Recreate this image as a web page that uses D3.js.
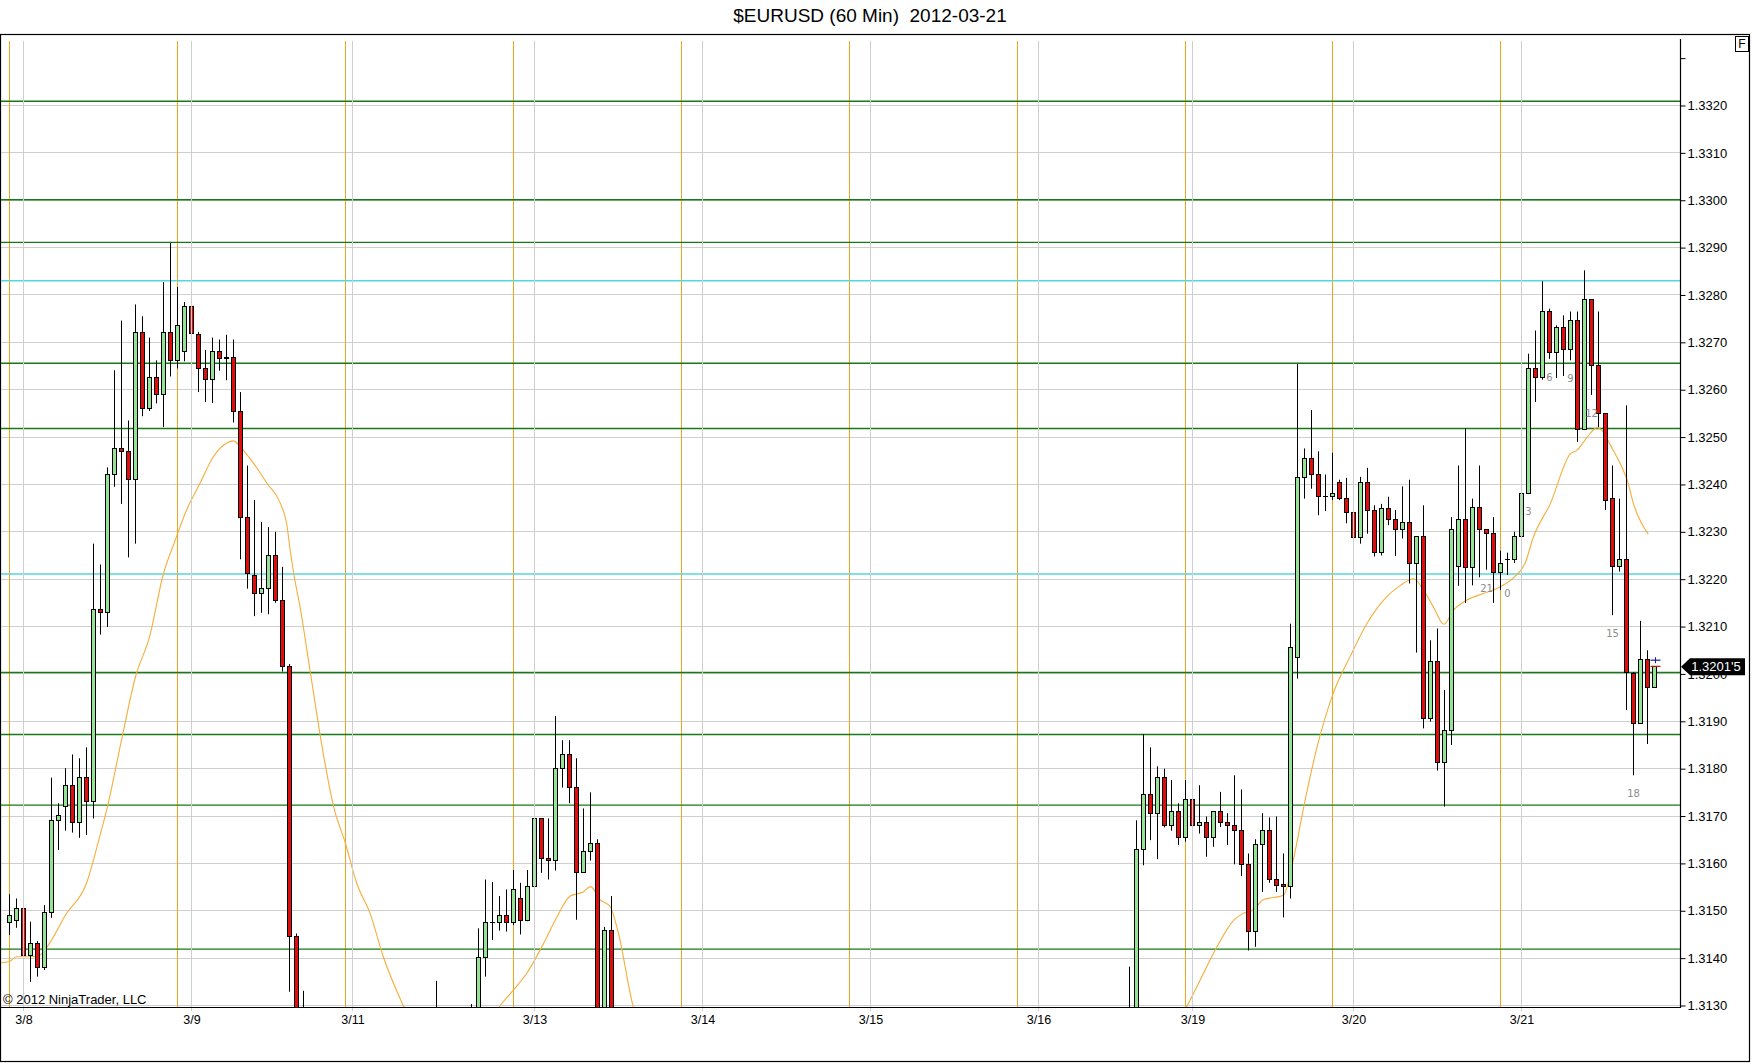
<!DOCTYPE html>
<html><head><meta charset="utf-8">
<script src="https://cdn.jsdelivr.net/npm/d3@7"></script>
<style>
html,body{margin:0;padding:0;background:#fff;}
svg{display:block;font-family:"Liberation Sans",Arial,sans-serif;}
.pre{white-space:pre;}
</style></head><body>
<svg id="c" width="1752" height="1064"></svg>
<script>
// ---------------- DATA ----------------
const chartTitle = "$EURUSD (60 Min)  2012-03-21";
const copyright = "\u00A9 2012 NinjaTrader, LLC";

const barIndex = [0,1,2,3,4,5,6,7,8,9,10,11,12,13,14,15,16,17,18,19,20,21,22,23,24,25,26,27,28,29,30,31,32,33,34,35,36,37,38,39,40,41,42,
  61,66,67,68,69,70,71,72,73,74,75,76,77,78,79,80,81,82,83,84,85,86,
  160,161,162,163,164,165,166,167,168,169,170,171,172,173,174,175,176,177,178,179,180,181,182,183,184,185,186,187,188,189,190,191,192,193,194,195,196,197,198,199,200,201,202,203,204,205,206,207,208,209,210,211,212,213,214,215,216,217,218,219,220,221,222,223,224,225,226,227,228,229,230,231,232,233,234,235];
const opens = [1.31476,1.31480,1.31505,1.31405,1.31431,1.31380,1.31497,1.31691,1.31720,1.31764,1.31687,1.31781,1.31731,1.32136,1.32130,1.32421,1.32476,1.32469,1.32410,1.32720,1.32560,1.32625,1.32590,1.32720,1.32662,1.32680,1.32775,1.32716,1.32645,1.32621,1.32680,1.32665,1.32669,1.32555,1.32330,1.32208,1.32170,1.32180,1.32251,1.32154,1.32015,1.31445,1.31250,
  1.31200,1.31200,1.31250,1.31402,1.31476,1.31476,1.31491,1.31476,1.31526,1.31480,1.31551,1.31695,1.31611,1.31606,1.31801,1.31830,1.31760,1.31581,1.31625,1.31641,1.31200,1.31458,
  1.31200,1.31250,1.31629,1.31746,1.31706,1.31781,1.31679,1.31709,1.31655,1.31735,1.31679,1.31686,1.31655,1.31709,1.31686,1.31679,1.31669,1.31598,1.31456,1.31640,1.31669,1.31566,1.31556,1.31552,1.32035,1.32414,1.32455,1.32421,1.32374,1.32374,1.32405,1.32370,1.32341,1.32289,1.32405,1.32345,1.32256,1.32350,1.32326,1.32305,1.32319,1.32234,1.32291,1.31906,1.32027,1.31814,1.31880,1.32226,1.32326,1.32224,1.32351,1.32305,1.32296,1.32215,1.32241,1.32241,1.32291,1.32381,1.32644,1.32625,1.32765,1.32679,1.32731,1.32684,1.32746,1.32516,1.32790,1.32652,1.32550,1.32370,1.32226,1.32241,1.32001,1.31895,1.32030,1.31971];
const highs = [1.31535,1.31526,1.31535,1.31477,1.31436,1.31512,1.31781,1.31727,1.31801,1.31830,1.31822,1.31845,1.32275,1.32231,1.32436,1.32641,1.32746,1.32535,1.32780,1.32755,1.32710,1.32662,1.32827,1.32910,1.32817,1.32785,1.32776,1.32722,1.32684,1.32710,1.32706,1.32716,1.32706,1.32595,1.32440,1.32367,1.32321,1.32310,1.32300,1.32226,1.32021,1.31452,1.31331,
  1.31352,1.31303,1.31463,1.31566,1.31561,1.31531,1.31545,1.31586,1.31559,1.31586,1.31727,1.31695,1.31695,1.31911,1.31860,1.31860,1.31822,1.31716,1.31750,1.31651,1.31466,1.31531,
  1.31382,1.31691,1.31873,1.31845,1.31805,1.31800,1.31776,1.31727,1.31776,1.31765,1.31765,1.31699,1.31709,1.31751,1.31706,1.31786,1.31756,1.31621,1.31651,1.31706,1.31697,1.31699,1.31621,1.32106,1.32654,1.32476,1.32557,1.32470,1.32421,1.32467,1.32410,1.32414,1.32360,1.32416,1.32435,1.32356,1.32359,1.32374,1.32346,1.32396,1.32410,1.32291,1.32356,1.32071,1.32096,1.31966,1.32331,1.32440,1.32518,1.32370,1.32440,1.32305,1.32331,1.32260,1.32256,1.32300,1.32400,1.32676,1.32725,1.32829,1.32771,1.32736,1.32757,1.32765,1.32765,1.32852,1.32790,1.32765,1.32550,1.32440,1.32370,1.32567,1.32004,1.32112,1.32050,1.32015];
const lows = [1.31449,1.31464,1.31395,1.31350,1.31361,1.31375,1.31485,1.31628,1.31669,1.31665,1.31654,1.31660,1.31695,1.32083,1.32099,1.32395,1.32359,1.32246,1.32275,1.32544,1.32555,1.32571,1.32521,1.32628,1.32645,1.32660,1.32634,1.32595,1.32574,1.32572,1.32640,1.32620,1.32531,1.32242,1.32180,1.32122,1.32129,1.32126,1.32150,1.32005,1.31329,1.31100,1.31100,
  1.31100,1.31100,1.31150,1.31361,1.31438,1.31458,1.31456,1.31470,1.31450,1.31478,1.31516,1.31580,1.31566,1.31585,1.31760,1.31727,1.31481,1.31581,1.31606,1.31100,1.31100,1.31100,
  1.31100,1.31200,1.31596,1.31649,1.31609,1.31676,1.31669,1.31639,1.31646,1.31644,1.31663,1.31614,1.31635,1.31677,1.31639,1.31598,1.31573,1.31416,1.31424,1.31540,1.31559,1.31540,1.31486,1.31526,1.31990,1.32370,1.32391,1.32335,1.32344,1.32367,1.32367,1.32318,1.32275,1.32275,1.32296,1.32248,1.32250,1.32314,1.32249,1.32286,1.32191,1.32045,1.31885,1.31899,1.31796,1.31720,1.31850,1.32186,1.32150,1.32187,1.32204,1.32220,1.32150,1.32177,1.32209,1.32234,1.32291,1.32381,1.32574,1.32621,1.32665,1.32625,1.32629,1.32662,1.32490,1.32516,1.32589,1.32521,1.32346,1.32124,1.32216,1.31924,1.31786,1.31895,1.31852,1.31971];
const closes = [1.31490,1.31505,1.31405,1.31431,1.31380,1.31497,1.31691,1.31701,1.31764,1.31687,1.31781,1.31731,1.32136,1.32130,1.32421,1.32476,1.32469,1.32410,1.32720,1.32560,1.32625,1.32590,1.32720,1.32662,1.32735,1.32775,1.32718,1.32645,1.32621,1.32680,1.32665,1.32669,1.32555,1.32330,1.32212,1.32170,1.32180,1.32251,1.32154,1.32015,1.31445,1.31200,1.31150,
  1.31250,1.31250,1.31402,1.31476,1.31476,1.31491,1.31476,1.31545,1.31480,1.31551,1.31695,1.31611,1.31606,1.31801,1.31830,1.31760,1.31581,1.31625,1.31641,1.31200,1.31458,1.31200,
  1.31250,1.31629,1.31746,1.31706,1.31781,1.31679,1.31709,1.31655,1.31735,1.31679,1.31686,1.31655,1.31709,1.31686,1.31679,1.31669,1.31598,1.31456,1.31640,1.31669,1.31566,1.31554,1.31552,1.32055,1.32414,1.32455,1.32421,1.32374,1.32374,1.32381,1.32370,1.32341,1.32289,1.32405,1.32345,1.32256,1.32350,1.32326,1.32305,1.32319,1.32234,1.32291,1.31906,1.32027,1.31814,1.31880,1.32305,1.32326,1.32224,1.32351,1.32305,1.32296,1.32215,1.32234,1.32241,1.32291,1.32381,1.32644,1.32625,1.32765,1.32679,1.32731,1.32684,1.32746,1.32516,1.32790,1.32652,1.32550,1.32367,1.32226,1.32241,1.32004,1.31895,1.32030,1.31971,1.32015];

// moving average, null = break
const maBars = [-1.3,0,1,3,4,5,6,8,11,13,14,16,18,20,22,23.5,25.3,27.2,29.1,31.1,32,33,34.9,36.8,38.7,39.6,40.1,40.6,41.5,43,44.9,46.3,48,49.6,51.5,53.4,56.3,57.5,null,
  68.5,70.1,72,73.9,76.3,78.2,80.1,82,83,84.4,85.8,87,89.1,90,null,
  167.5,168.2,170.1,172.5,174.9,176.3,177.7,179.1,182.0,183.4,184.9,186.8,189.1,191.5,193.9,196.3,198.7,200.6,202.0,203.4,204.9,206.3,208.2,210.6,213.0,215.0,216.5,217.7,220.1,223,223.9,225.4,226.8,227.5,228.7,230.1,231.1,232,234.1];
const maValues = [1.31390,1.31393,1.31403,1.31403,1.31404,1.31416,1.31438,1.31491,1.31558,1.31663,1.31720,1.31860,1.31994,1.32078,1.32212,1.32275,1.32346,1.32402,1.32458,1.32488,1.32492,1.32479,1.32444,1.32402,1.32360,1.32317,1.32261,1.32212,1.32142,1.32001,1.31825,1.31720,1.31642,1.31558,1.31495,1.31403,1.31298,1.31260,null,
  1.31270,1.31300,1.31333,1.31368,1.31431,1.31487,1.31531,1.31540,1.31551,1.31523,1.31509,1.31452,1.31298,1.31260,null,
  1.31280,1.31298,1.31354,1.31424,1.31480,1.31495,1.31502,1.31523,1.31533,1.31607,1.31720,1.31846,1.31959,1.32036,1.32106,1.32156,1.32187,1.32201,1.32177,1.32142,1.32105,1.32135,1.32156,1.32170,1.32184,1.32205,1.32233,1.32289,1.32359,1.32465,1.32472,1.32500,1.32520,1.32514,1.32483,1.32444,1.32409,1.32359,1.32295];

const dateTickBars = [2,26,49,75,99,123,147,169,192,216];
const dateTickLabels = ["3/8","3/9","3/11","3/13","3/14","3/15","3/16","3/19","3/20","3/21"];
const sessionBars = [0,24,48,72,96,120,144,168,189,213];

const priceTicks = [1.3130,1.3140,1.3150,1.3160,1.3170,1.3180,1.3190,1.3200,1.3210,1.3220,1.3230,1.3240,1.3250,1.3260,1.3270,1.3280,1.3290,1.3300,1.3310,1.3320];
const extraTick = [1.3330];

const greenLevels = [1.33209,1.33001,1.32911,1.32656,1.32518,1.32003,1.31872,1.31723,1.31419];
const cyanLevels = [1.32830,1.32211];

const countBars = [211,214,217,220,223,226,229,232];
const countLabels = ["21","0","3","6","9","12","15","18"];

const lastPrice = 1.32015;
const lastPriceLabel = "1.3201'5";
const askPrice = 1.32029;
const bidPrice = 1.32016;

// ---------------- DRAW ----------------
const svg = d3.select("#c");
const P = {left:1, top:40, right:1680, bottom:1008};
const x = d3.scaleLinear().domain([0,235]).range([9.5, 9.5+235*7]);
const y = d3.scaleLinear().domain([1.3130,1.3320]).range([1005.5,105.5]);
const cy = v => Math.round(y(v)-0.5)+0.5;
const cx = k => Math.round(x(k)-0.5)+0.5;

svg.append("rect").attr("width",1752).attr("height",1064).attr("fill","#fff");

svg.append("defs").append("clipPath").attr("id","clip")
  .append("rect").attr("x",P.left).attr("y",P.top).attr("width",P.right-P.left).attr("height",P.bottom-P.top);

// title
svg.append("text").attr("class","pre").attr("xml:space","preserve")
  .attr("x",870).attr("y",22).attr("text-anchor","middle")
  .attr("font-size",19).attr("fill","#000").text(chartTitle);

// outer frame
svg.append("rect").attr("x",0.5).attr("y",34.5).attr("width",1749).attr("height",1027)
  .attr("fill","none").attr("stroke","#000").attr("stroke-width",1.2);

const g = svg.append("g").attr("clip-path","url(#clip)");

// horizontal grid
g.selectAll(".hg").data(priceTicks).join("line")
  .attr("x1",P.left).attr("x2",P.right).attr("y1",d=>cy(d)).attr("y2",d=>cy(d))
  .attr("stroke","#cfcfcf").attr("stroke-width",1);

// vertical date grid (extends slightly below plot)
svg.selectAll(".vg").data(dateTickBars).join("line")
  .attr("x1",d=>cx(d)).attr("x2",d=>cx(d)).attr("y1",41).attr("y2",1011)
  .attr("stroke","#cfcfcf").attr("stroke-width",1);

// session lines
g.selectAll(".sl").data(sessionBars).join("line")
  .attr("x1",d=>cx(d)).attr("x2",d=>cx(d)).attr("y1",41).attr("y2",P.bottom)
  .attr("stroke","#f2a51a").attr("stroke-width",1);

// green / cyan levels
g.selectAll(".gl").data(greenLevels).join("line")
  .attr("x1",P.left).attr("x2",P.right).attr("y1",d=>y(d)).attr("y2",d=>y(d))
  .attr("stroke","#167a16").attr("stroke-width",1.4);
g.selectAll(".cl").data(cyanLevels).join("line")
  .attr("x1",P.left).attr("x2",P.right).attr("y1",d=>y(d)).attr("y2",d=>y(d))
  .attr("stroke","#55d6dc").attr("stroke-width",1.4);

// moving average
const maPts = maBars.map((k,i)=>({k, v:maValues[i]}));
const maLine = d3.line().defined(d=>d.k!==null && d.v!==null)
  .x(d=>x(d.k)).y(d=>y(d.v)).curve(d3.curveMonotoneX);
g.append("path").attr("d",maLine(maPts)).attr("fill","none")
  .attr("stroke","#f5ae3a").attr("stroke-width",1.1);

// candles
const bars = barIndex.map((k,i)=>({k,o:opens[i],h:highs[i],l:lows[i],c:closes[i]}));
const cg = g.selectAll(".bar").data(bars).join("g");
cg.append("line")
  .attr("x1",d=>cx(d.k)).attr("x2",d=>cx(d.k))
  .attr("y1",d=>y(d.h)).attr("y2",d=>y(d.l))
  .attr("stroke","#000").attr("stroke-width",1);
cg.append("rect")
  .attr("x",d=>cx(d.k)-2.5+0.5).attr("width",4)
  .attr("y",d=>cy(Math.max(d.o,d.c)))
  .attr("height",d=>Math.max(0.01, cy(Math.min(d.o,d.c))-cy(Math.max(d.o,d.c))))
  .attr("fill",d=>d.c>=d.o?"#95e495":"#e00d0d")
  .attr("stroke","#000").attr("stroke-width",1);

// ask / bid marks on last bar
const lastK = barIndex[barIndex.length-1];
g.append("line").attr("x1",x(lastK)-4).attr("x2",x(lastK)+6).attr("y1",y(askPrice)).attr("y2",y(askPrice))
  .attr("stroke","#1a1aa0").attr("stroke-width",1.2);
g.append("line").attr("x1",x(lastK)+1).attr("x2",x(lastK)+1).attr("y1",y(askPrice)-3).attr("y2",y(askPrice)+3)
  .attr("stroke","#1a1aa0").attr("stroke-width",1);
g.append("line").attr("x1",x(lastK)-4).attr("x2",x(lastK)+6).attr("y1",y(bidPrice)).attr("y2",y(bidPrice))
  .attr("stroke","#d01010").attr("stroke-width",1.2);

// bar counter labels
const lowOf = k => lows[barIndex.indexOf(k)];
g.selectAll(".cnt").data(countBars).join("text")
  .attr("x",d=>x(d)).attr("y",d=>y(lowOf(d))+19)
  .attr("text-anchor","middle").attr("dominant-baseline","middle")
  .attr("font-family","'DejaVu Sans',sans-serif").attr("font-size",10).attr("fill","#8c8c8c")
  .text((d,i)=>countLabels[i]);

// copyright
svg.append("text").attr("x",3).attr("y",1004).attr("font-size",13).attr("fill","#000").text(copyright);

// plot borders
svg.append("line").attr("x1",0).attr("x2",P.right+0.5).attr("y1",P.bottom-0.5).attr("y2",P.bottom-0.5)
  .attr("stroke","#000").attr("stroke-width",1.2);
svg.append("line").attr("x1",P.right+0.5).attr("x2",P.right+0.5).attr("y1",39).attr("y2",P.bottom)
  .attr("stroke","#000").attr("stroke-width",1.2);

// right price axis
const yAxis = d3.axisRight(y).tickValues(priceTicks).tickFormat(d3.format(".4f")).tickSize(5).tickPadding(2);
const ya = svg.append("g").attr("transform",`translate(${P.right+0.5},0)`).call(yAxis);
ya.select(".domain").remove();
ya.selectAll("text").attr("font-size",13).attr("font-family","'Liberation Sans',Arial,sans-serif").attr("fill","#000");
ya.selectAll("line").attr("stroke","#000");
const yAxis2 = d3.axisRight(y).tickValues(extraTick).tickFormat(()=>"").tickSize(5);
const ya2 = svg.append("g").attr("transform",`translate(${P.right+0.5},0)`).call(yAxis2);
ya2.select(".domain").remove();

// bottom date axis
const xAxis = d3.axisBottom(x).tickValues(dateTickBars).tickFormat((d,i)=>dateTickLabels[i]).tickSize(0).tickPadding(7);
const xa = svg.append("g").attr("transform",`translate(0,${P.bottom})`).call(xAxis);
xa.select(".domain").remove();
xa.selectAll("text").attr("font-size",12.5).attr("font-family","'Liberation Sans',Arial,sans-serif").attr("fill","#000");

// last price marker
const yp = y(lastPrice);
svg.append("path")
  .attr("d",`M${P.right+1},${yp} L${P.right+10},${yp-8.5} L1745,${yp-8.5} L1745,${yp+8.5} L${P.right+10},${yp+8.5} Z`)
  .attr("fill","#000");
svg.append("text").attr("x",1716).attr("y",yp).attr("text-anchor","middle").attr("dominant-baseline","central")
  .attr("font-size",13).attr("fill","#fff").text(lastPriceLabel);

// F box
svg.append("rect").attr("x",1735.5).attr("y",36.5).attr("width",13).attr("height",15)
  .attr("fill","#fff").attr("stroke","#000").attr("stroke-width",1);
svg.append("text").attr("x",1742).attr("y",48).attr("text-anchor","middle").attr("font-size",12).text("F");
</script>
</body></html>
